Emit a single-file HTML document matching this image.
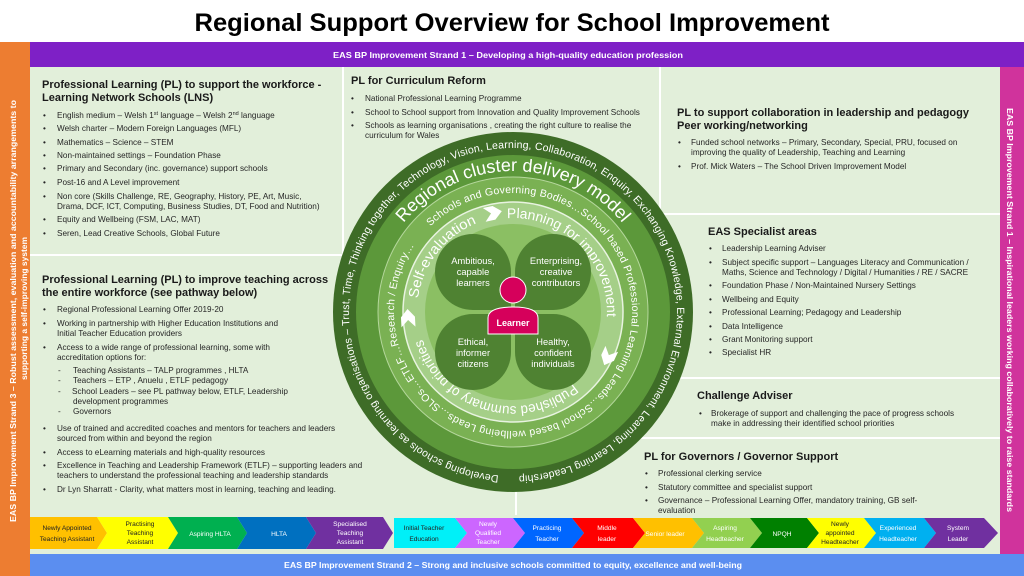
<!DOCTYPE html>
<html><head><meta charset="utf-8"><style>
html,body{margin:0;padding:0;background:#fff;}
svg{display:block;font-family:"Liberation Sans",Arial,sans-serif;}
.h{font-size:11px;font-weight:bold;fill:#1a1a1a;}
.b{font-size:8.2px;fill:#262626;}
.c{font-size:6.6px;text-anchor:middle;}
</style></head><body>
<svg width="1024" height="576" viewBox="0 0 1024 576" xmlns="http://www.w3.org/2000/svg">
<rect width="1024" height="576" fill="#fff"/>
<text x="512" y="31" font-size="25" font-weight="bold" text-anchor="middle" textLength="635" lengthAdjust="spacingAndGlyphs" fill="#000">Regional Support Overview for School Improvement</text>
<rect x="0" y="42" width="30" height="534" fill="#ed7d31"/>
<rect x="30" y="42" width="994" height="25" fill="#7e20c6"/>
<rect x="30" y="67" width="970" height="487" fill="#e2efda"/>
<rect x="1000" y="67" width="24" height="487" fill="#d0339c"/>
<rect x="30" y="554" width="994" height="22" fill="#5b8ef0"/>
<text x="508" y="58" font-size="8.5" font-weight="bold" fill="#fff" text-anchor="middle" textLength="350" lengthAdjust="spacingAndGlyphs">EAS BP Improvement Strand 1    –   Developing a high-quality education profession</text>
<text x="513" y="568" font-size="8.5" font-weight="bold" fill="#fff" text-anchor="middle" textLength="458" lengthAdjust="spacingAndGlyphs">EAS BP Improvement Strand 2   –   Strong and inclusive schools committed to equity, excellence and well-being</text>
<text transform="translate(16,522) rotate(-90)" font-size="8.5" font-weight="bold" fill="#fff" textLength="422" lengthAdjust="spacingAndGlyphs">EAS BP Improvement Strand 3   –   Robust assessment, evaluation and accountability arrangements to</text>
<text transform="translate(27,380) rotate(-90)" font-size="8.5" font-weight="bold" fill="#fff" textLength="143" lengthAdjust="spacingAndGlyphs">supporting a self-improving system</text>
<text transform="translate(1007,108) rotate(90)" font-size="8.5" font-weight="bold" fill="#fff" textLength="404" lengthAdjust="spacingAndGlyphs">EAS BP Improvement Strand 1   –   Inspirational leaders working collaboratively to raise standards</text>
<g stroke="#fff" stroke-width="2">
<line x1="343" y1="67" x2="343" y2="300"/>
<line x1="660" y1="67" x2="660" y2="214"/>
<line x1="30" y1="255" x2="343" y2="255"/>
<line x1="660" y1="214" x2="1000" y2="214"/>
<line x1="640" y1="378" x2="1000" y2="378"/>
<line x1="600" y1="438" x2="1000" y2="438"/>
<line x1="516" y1="440" x2="516" y2="515"/>
</g>
<text class="h" x="42" y="88">Professional Learning (PL) to support the workforce -</text>
<text class="h" x="42" y="101">Learning Network Schools (LNS)</text>
<g class="b">
<text x="43" y="118">•</text><text x="57" y="118">English medium – Welsh 1<tspan font-size="5.5" dy="-3">st</tspan><tspan dy="3"> language – Welsh 2</tspan><tspan font-size="5.5" dy="-3">nd</tspan><tspan dy="3"> language</tspan></text>
<text x="43" y="131">•</text><text x="57" y="131">Welsh charter – Modern Foreign Languages (MFL)</text>
<text x="43" y="145">•</text><text x="57" y="145">Mathematics – Science – STEM</text>
<text x="43" y="158">•</text><text x="57" y="158">Non-maintained settings – Foundation Phase</text>
<text x="43" y="171">•</text><text x="57" y="171">Primary and Secondary (inc. governance) support schools</text>
<text x="43" y="185">•</text><text x="57" y="185">Post-16 and A Level improvement</text>
<text x="43" y="199">•</text><text x="57" y="199">Non core (Skills Challenge, RE, Geography, History, PE, Art, Music,</text>
<text x="57" y="209">Drama, DCF, ICT, Computing, Business Studies, DT, Food and Nutrition)</text>
<text x="43" y="222">•</text><text x="57" y="222">Equity and Wellbeing (FSM, LAC, MAT)</text>
<text x="43" y="236">•</text><text x="57" y="236">Seren, Lead Creative Schools, Global Future</text>
</g>
<text class="h" x="42" y="283">Professional Learning (PL) to improve teaching across</text>
<text class="h" x="42" y="296">the entire workforce (see pathway below)</text>
<g class="b">
<text x="43" y="312">•</text><text x="57" y="312">Regional Professional Learning Offer 2019-20</text>
<text x="43" y="326">•</text><text x="57" y="326">Working in partnership with Higher Education Institutions and</text>
<text x="57" y="336">Initial Teacher Education providers</text>
<text x="43" y="350">•</text><text x="57" y="350">Access to a wide range of professional learning, some with</text>
<text x="57" y="360">accreditation options for:</text>
<text x="58" y="373">-</text><text x="73" y="373">Teaching Assistants – TALP programmes , HLTA</text>
<text x="58" y="383">-</text><text x="73" y="383">Teachers – ETP , Anuelu , ETLF pedagogy</text>
<text x="58" y="394">-</text><text x="72" y="394">School Leaders – see PL pathway below, ETLF, Leadership</text>
<text x="73" y="404">development programmes</text>
<text x="58" y="414">-</text><text x="73" y="414">Governors</text>
<text x="43" y="431">•</text><text x="57" y="431">Use of trained and accredited coaches and mentors for teachers and leaders</text>
<text x="57" y="441">sourced from within and beyond the region</text>
<text x="43" y="455">•</text><text x="57" y="455">Access to eLearning materials and high-quality resources</text>
<text x="43" y="468">•</text><text x="57" y="468">Excellence in Teaching and Leadership Framework (ETLF) – supporting leaders and</text>
<text x="57" y="478">teachers to understand the professional teaching and leadership standards</text>
<text x="43" y="492">•</text><text x="57" y="492">Dr Lyn Sharratt - Clarity, what matters most in learning, teaching and leading.</text>
</g>
<text class="h" x="351" y="84">PL for Curriculum Reform</text>
<g class="b" font-size="7.9">
<text x="351" y="101">•</text><text x="365" y="101">National Professional Learning Programme</text>
<text x="351" y="115">•</text><text x="365" y="115">School to School support from Innovation and Quality Improvement Schools</text>
<text x="351" y="128">•</text><text x="365" y="128">Schools as learning organisations , creating the right culture to realise the</text>
<text x="365" y="138">curriculum for Wales</text>
</g>
<text class="h" x="677" y="116">PL to support collaboration in leadership and pedagogy</text>
<text class="h" x="677" y="129">Peer working/networking</text>
<g class="b">
<text x="678" y="145">•</text><text x="691" y="145">Funded school networks – Primary, Secondary, Special, PRU, focused on</text>
<text x="691" y="155">improving the quality of Leadership, Teaching and Learning</text>
<text x="678" y="169">•</text><text x="691" y="169">Prof. Mick Waters – The School Driven Improvement Model</text>
</g>
<text class="h" x="708" y="235">EAS Specialist areas</text>
<g class="b">
<text x="709" y="251">•</text><text x="722" y="251">Leadership Learning Adviser</text>
<text x="709" y="265">•</text><text x="722" y="265">Subject specific support – Languages Literacy and Communication /</text>
<text x="722" y="275">Maths, Science and Technology / Digital / Humanities / RE / SACRE</text>
<text x="709" y="288">•</text><text x="722" y="288">Foundation Phase / Non-Maintained Nursery Settings</text>
<text x="709" y="302">•</text><text x="722" y="302">Wellbeing and Equity</text>
<text x="709" y="315">•</text><text x="722" y="315">Professional Learning; Pedagogy and Leadership</text>
<text x="709" y="329">•</text><text x="722" y="329">Data Intelligence</text>
<text x="709" y="342">•</text><text x="722" y="342">Grant Monitoring support</text>
<text x="709" y="355">•</text><text x="722" y="355">Specialist HR</text>
</g>
<text class="h" x="697" y="399">Challenge Adviser</text>
<g class="b">
<text x="699" y="416">•</text><text x="711" y="416">Brokerage of support and challenging the pace of progress schools</text>
<text x="711" y="426">make in addressing their identified school priorities</text>
</g>
<text class="h" x="644" y="460">PL for Governors / Governor Support</text>
<g class="b">
<text x="645" y="476">•</text><text x="658" y="476">Professional clerking service</text>
<text x="645" y="490">•</text><text x="658" y="490">Statutory committee and specialist support</text>
<text x="645" y="503">•</text><text x="658" y="503">Governance – Professional Learning  Offer, mandatory training, GB self-</text>
<text x="658" y="513">evaluation</text>
</g>
<defs>
<path id="pOuter" d="M498.7,475.4 A164,164 0 1 1 527.3,148.6 A164,164 0 1 1 498.7,475.4"/>
<path id="pReg" d="M380.5,263.8 A141,141 0 0 1 645.5,263.8"/>
<path id="pSch" d="M430.3,226.4 A119,119 0 1 1 595.7,397.6 A119,119 0 1 1 430.3,226.4"/>
<path id="pPlan" d="M507.1,218.2 A94,94 0 0 1 604.9,331.5"/>
<path id="pPub" d="M573.4,384.0 A94,94 0 0 1 420.7,331.4"/>
<path id="pSelf" d="M417.9,298.6 A96,96 0 0 1 480.2,221.8"/>
</defs>
<circle cx="513" cy="312" r="180" fill="#3e6c27"/>
<circle cx="513" cy="312" r="157" fill="#5c983a"/>
<circle cx="513" cy="312" r="135" fill="#7ab153" stroke="#b5d79c" stroke-width="1"/>
<circle cx="513" cy="312" r="110" fill="#a5cf88" stroke="#e8f3e0" stroke-width="1.5"/>
<circle cx="513" cy="312" r="88" fill="#8bbf63"/>
<text font-size="10.5" fill="#fff"><textPath href="#pOuter" textLength="1010" lengthAdjust="spacing">Developing schools as learning organisations – Trust, Time, Thinking together, Technology, Vision, Learning, Collaboration, Enquiry, Exchanging Knowledge, External Environment, Learning, Learning Leadership</textPath></text>
<text font-size="18" fill="#fff" text-anchor="middle"><textPath href="#pReg" startOffset="50%">Regional cluster delivery model</textPath></text>
<text font-size="10.5" fill="#fff"><textPath href="#pSch" textLength="722" lengthAdjust="spacing">Schools and Governing Bodies…School based Professional Learning Leads…School based wellbeing Leads…SLOs…ETLF…Research / Enquiry…</textPath></text>
<text font-size="14" fill="#fff"><textPath href="#pPlan" textLength="158" lengthAdjust="spacingAndGlyphs">Planning for improvement</textPath></text>
<text font-size="14" fill="#fff"><textPath href="#pPub" textLength="186" lengthAdjust="spacingAndGlyphs">Published summary of priorities</textPath></text>
<text font-size="14" fill="#fff"><textPath href="#pSelf" textLength="100" lengthAdjust="spacingAndGlyphs">Self-evaluation</textPath></text>
<g fill="#fff">
<polygon transform="translate(493,213) rotate(-12)" points="-9,-7 1,-7 9,0 1,7 -9,7 -2,0"/>
<polygon transform="translate(608,357) rotate(115)" points="-9,-7 1,-7 9,0 1,7 -9,7 -2,0"/>
<polygon transform="translate(408,318) rotate(267)" points="-9,-7 1,-7 9,0 1,7 -9,7 -2,0"/>
</g>
<g fill="#4f8232">
<path d="M511,310 L473,310 A38,38 0 0 1 435,272 A38,38 0 0 1 473,234 A38,38 0 0 1 511,272 Z"/>
<path d="M515,310 L553,310 A38,38 0 0 0 591,272 A38,38 0 0 0 553,234 A38,38 0 0 0 515,272 Z"/>
<path d="M511,314 L473,314 A38,38 0 0 0 435,352 A38,38 0 0 0 473,390 A38,38 0 0 0 511,352 Z"/>
<path d="M515,314 L553,314 A38,38 0 0 1 591,352 A38,38 0 0 1 553,390 A38,38 0 0 1 515,352 Z"/>
</g>
<g font-size="9.3" fill="#fff" text-anchor="middle">
<text x="473" y="264">Ambitious,</text><text x="473" y="275">capable</text><text x="473" y="286">learners</text>
<text x="556" y="264">Enterprising,</text><text x="556" y="275">creative</text><text x="556" y="286">contributors</text>
<text x="473" y="345">Ethical,</text><text x="473" y="356">informer</text><text x="473" y="367">citizens</text>
<text x="553" y="345">Healthy,</text><text x="553" y="356">confident</text><text x="553" y="367">individuals</text>
</g>
<path d="M488,334 L488,318 Q488,307 513,307 Q538,307 538,318 L538,334 Z" fill="#d6005b" stroke="#fff" stroke-width="1"/>
<circle cx="513" cy="290" r="13" fill="#d6005b" stroke="#fff" stroke-width="1"/>
<text x="513" y="326" font-size="9" font-weight="bold" fill="#fff" text-anchor="middle">Learner</text>
<polygon points="30,517 97,517 107,533 97,549 30,549" fill="#ffc000"/>
<polygon points="97,517 168,517 178,533 168,549 97,549 107,533" fill="#ffff00"/>
<polygon points="168,517 237,517 247,533 237,549 168,549 178,533" fill="#00b050"/>
<polygon points="237,517 306,517 316,533 306,549 237,549 247,533" fill="#0070c0"/>
<polygon points="306,517 383,517 393,533 383,549 306,549 316,533" fill="#7030a0"/>
<polygon points="394,518 455,518 467,533 455,548 394,548" fill="#00f0f8"/>
<polygon points="455,518 513,518 525,533 513,548 455,548 467,533" fill="#cc66ff"/>
<polygon points="513,518 572,518 584,533 572,548 513,548 525,533" fill="#0066ff"/>
<polygon points="572,518 633,518 645,533 633,548 572,548 584,533" fill="#ff0000"/>
<polygon points="633,518 692,518 704,533 692,548 633,548 645,533" fill="#ffc000"/>
<polygon points="692,518 750,518 762,533 750,548 692,548 704,533" fill="#92d050"/>
<polygon points="750,518 807,518 819,533 807,548 750,548 762,533" fill="#008000"/>
<polygon points="807,518 864,518 876,533 864,548 807,548 819,533" fill="#ffff00"/>
<polygon points="864,518 924,518 936,533 924,548 864,548 876,533" fill="#00b0f0"/>
<polygon points="924,518 984,518 998,533 984,548 924,548 936,533" fill="#7030a0"/>
<g class="c" fill="#222">
<text x="67" y="530">Newly Appointed</text><text x="67" y="541">Teaching Assistant</text>
<text x="140" y="526">Practising</text><text x="140" y="535">Teaching</text><text x="140" y="544">Assistant</text>
<text x="424" y="530">Initial Teacher</text><text x="424" y="541">Education</text>
<text x="840" y="526">Newly</text><text x="840" y="535">appointed</text><text x="840" y="544">Headteacher</text>
</g>
<g class="c" fill="#fff">
<text x="210" y="536">Aspiring HLTA</text>
<text x="279" y="536">HLTA</text>
<text x="350" y="526">Specialised</text><text x="350" y="535">Teaching</text><text x="350" y="544">Assistant</text>
<text x="488" y="526">Newly</text><text x="488" y="535">Qualified</text><text x="488" y="544">Teacher</text>
<text x="547" y="530">Practicing</text><text x="547" y="541">Teacher</text>
<text x="607" y="530">Middle</text><text x="607" y="541">leader</text>
<text x="665" y="536">Senior leader</text>
<text x="725" y="530">Aspiring</text><text x="725" y="541">Headteacher</text>
<text x="782" y="536">NPQH</text>
<text x="898" y="530">Experienced</text><text x="898" y="541">Headteacher</text>
<text x="958" y="530">System</text><text x="958" y="541">Leader</text>
</g>
</svg>
</body></html>
